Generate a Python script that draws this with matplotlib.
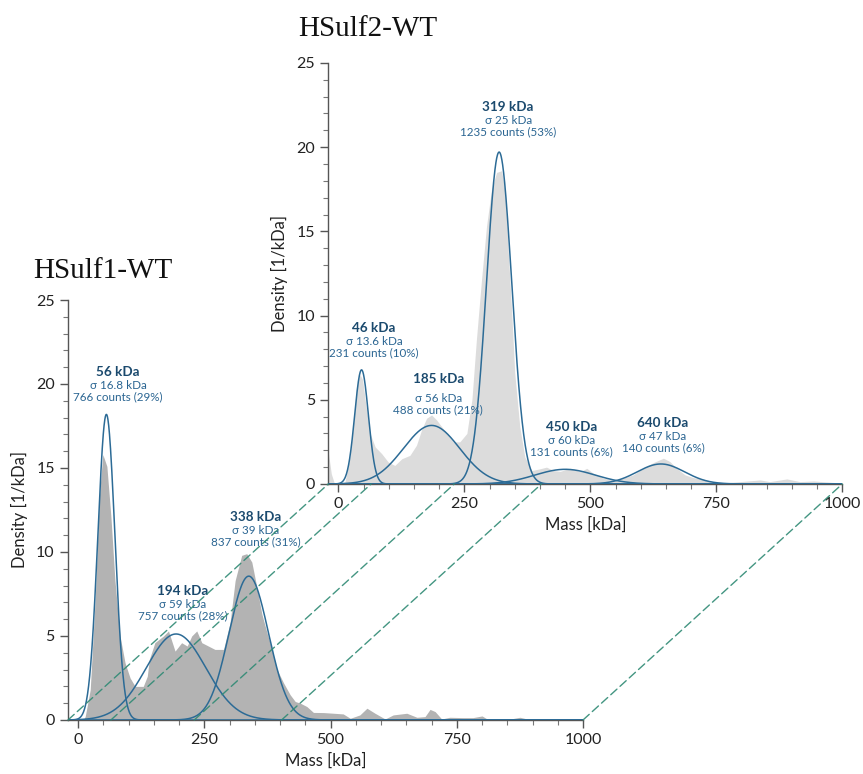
import numpy as np
import matplotlib
matplotlib.use("Agg")
import matplotlib.pyplot as plt
from matplotlib.patches import ConnectionPatch
from matplotlib.ticker import MultipleLocator

plt.rcParams['font.family'] = ['Lato', 'DejaVu Sans']

# HSulf1-WT histogram (mass kDa, density 1/kDa)
mass1 = [10, 14, 24, 34, 42, 49, 57, 65, 73, 83, 93, 103, 113, 129, 137, 141, 152,
         169, 179, 192, 205, 216, 225, 235, 245, 258, 271, 288, 301, 311, 324, 334,
         344, 354, 364, 374, 384, 394, 407, 420, 430, 440, 453, 466, 486, 506, 525,
         539, 558, 572, 588, 608, 624, 651, 671, 687, 697, 707, 720, 736, 762, 782,
         800, 810, 829, 849, 875, 895, 915, 941, 1000]
dens1 = [0, 0.2, 1.8, 7.3, 13.3, 15.8, 15.1, 12.1, 8.3, 5.0, 3.4, 2.5, 2.0, 2.0, 2.6,
         3.6, 4.6, 5.0, 5.3, 4.1, 4.6, 4.4, 5.0, 5.3, 4.6, 4.4, 4.2, 4.2, 5.8, 8.3,
         9.8, 9.9, 9.4, 7.9, 6.3, 5.2, 4.2, 3.0, 2.2, 1.5, 1.1, 1.0, 0.8, 0.45, 0.44,
         0.4, 0.36, 0.1, 0.3, 0.7, 0.4, 0.06, 0.3, 0.4, 0.16, 0.2, 0.63, 0.5, 0.06,
         0.16, 0.14, 0.14, 0.24, 0.06, 0.08, 0.02, 0.16, 0.02, 0.03, 0.01, 0]

# HSulf2-WT histogram
mass2 = [-20, -14, -8, 13, 23, 30, 36, 43, 48, 55, 63, 73, 86, 99, 112, 126, 142, 155,
         165, 175, 185, 195, 205, 215, 228, 241, 255, 265, 274, 284, 294, 304, 314,
         324, 331, 337, 344, 350, 360, 370, 384, 400, 413, 427, 440, 460, 480, 493,
         506, 526, 546, 565, 585, 605, 625, 645, 658, 671, 688, 704, 724, 744, 770,
         797, 837, 856, 890, 916, 943, 969, 1000]
dens2 = [1.9, 0.6, 0.05, 0.1, 1.6, 3.6, 5.8, 6.5, 6.2, 4.6, 3.0, 2.2, 1.8, 1.3, 1.1,
         1.5, 1.7, 2.3, 3.2, 3.9, 4.1, 3.8, 3.4, 3.0, 2.5, 2.5, 3.0, 5.0, 8.6, 12.1,
         15.3, 17.5, 18.5, 18.6, 17.3, 13.9, 10.2, 6.6, 3.4, 1.6, 0.8, 0.9, 1.0, 0.8,
         0.75, 0.93, 0.73, 0.93, 0.63, 0.34, 0.24, 0.34, 0.54, 0.93, 1.27, 1.53, 1.33,
         0.93, 0.54, 0.38, 0.28, 0.14, 0.08, 0.14, 0.24, 0.14, 0.3, 0.14, 0.18, 0.12,
         0.05]

# gaussian fits
mu1 = [56, 194, 338]
sig1 = [16.8, 59, 39]
cnt1 = [766, 757, 837]
pct1 = [29, 28, 31]

mu2 = [46, 185, 319, 450, 640]
sig2 = [13.6, 56, 25, 60, 47]
cnt2 = [231, 488, 1235, 131, 140]
pct2 = [10, 21, 53, 6, 6]

# gate boundaries joined between panels
links = [-20, 65, 230, 403, 1000]

# label anchors (x, y of bold line, gap to sigma line in pt)
lab1 = [(79, 20.7, 9.7), (207, 7.68, 9.7), (352, 12.07, 9.7)]
lab2 = [(71, 9.27, 9.7), (198, 6.23, 14.0), (337, 22.4, 9.7), (463, 3.41, 9.7), (644, 3.61, 9.7)]

CURVE = '#2c6b96'
DARK = '#1b4a6e'
MID = '#2a6592'
LINK = '#2f8a74'


def style(ax):
    ax.set_xlim(-20, 1000)
    ax.set_ylim(0, 25)
    ax.patch.set_alpha(0)
    for s in ['top', 'right']:
        ax.spines[s].set_visible(False)
    for s in ['left', 'bottom']:
        ax.spines[s].set_color('#555555')
        ax.spines[s].set_linewidth(1.0)
    ax.set_xticks([0, 250, 500, 750, 1000])
    ax.set_yticks([0, 5, 10, 15, 20, 25])
    ax.xaxis.set_minor_locator(MultipleLocator(50))
    ax.yaxis.set_minor_locator(MultipleLocator(1))
    ax.tick_params(which='major', length=6, width=1, color='#555555',
                   labelsize=11.5, labelcolor='#222222')
    ax.tick_params(which='minor', length=3.5, width=0.8, color='#777777')
    ax.set_xlabel('Mass [kDa]', fontsize=12, color='#222222', labelpad=4)
    ax.set_ylabel('Density [1/kDa]', fontsize=12, color='#222222', labelpad=6)


def draw(ax, mass, dens, mu, sig, cnt, pct, labs, fill):
    ax.fill_between(mass, dens, color=fill, lw=0, zorder=1)
    x = np.linspace(-20, 1000, 2000)
    for m, s, c in zip(mu, sig, cnt):
        g = c / (s * np.sqrt(2 * np.pi)) * np.exp(-0.5 * ((x - m) / s) ** 2)
        ax.plot(x, g, color=CURVE, lw=1.1, zorder=3)
    for m, s, c, p, (lx, ly, gap) in zip(mu, sig, cnt, pct, labs):
        ax.annotate(f'{m} kDa', (lx, ly), ha='center', va='center', fontsize=9.7,
                    fontweight='bold', color=DARK, annotation_clip=False)
        ax.annotate(f'σ {s:g} kDa', (lx, ly), xytext=(0, -gap), textcoords='offset points',
                    ha='center', va='center', fontsize=8.4, color=MID, annotation_clip=False)
        ax.annotate(f'{c} counts ({p}%)', (lx, ly), xytext=(0, -gap - 8.3),
                    textcoords='offset points', ha='center', va='center', fontsize=8.4,
                    color=MID, annotation_clip=False)


fig = plt.figure(figsize=(8.63, 7.74), dpi=100)
ax1 = fig.add_axes([0.0788, 0.0698, 0.5968, 0.5426])
ax2 = fig.add_axes([0.3804, 0.3747, 0.5956, 0.5440])

draw(ax1, mass1, dens1, mu1, sig1, cnt1, pct1, lab1, '#b3b3b3')
draw(ax2, mass2, dens2, mu2, sig2, cnt2, pct2, lab2, '#dcdcdc')
style(ax1)
style(ax2)

for xv in links:
    con = ConnectionPatch(xyA=(xv, 0), coordsA=ax1.transData,
                          xyB=(xv, 0), coordsB=ax2.transData,
                          color=LINK, lw=1.0, ls=(0, (6, 3)), alpha=0.9, zorder=5)
    fig.add_artist(con)

fig.text(0.038, 1 - 278 / 774, 'HSulf1-WT', family=['Liberation Serif', 'DejaVu Serif'],
         fontsize=21, color='#111111', va='baseline')
fig.text(0.346, 1 - 36 / 774, 'HSulf2-WT', family=['Liberation Serif', 'DejaVu Serif'],
         fontsize=21, color='#111111', va='baseline')

fig.savefig('out.png', dpi=100)
